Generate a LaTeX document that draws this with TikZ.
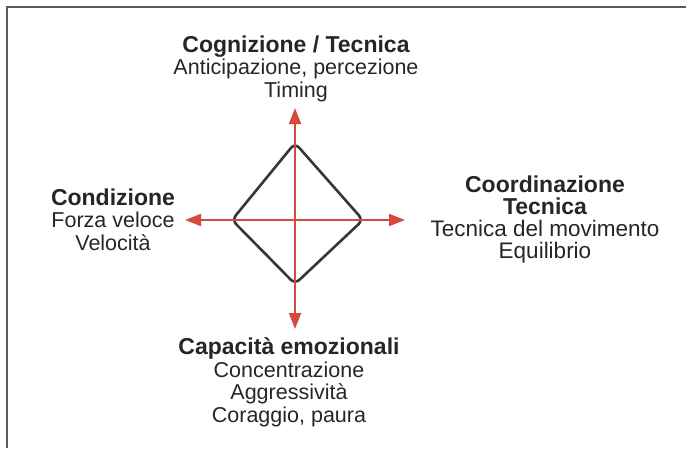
\documentclass[tikz,border=0pt]{standalone}
\usepackage{fontspec}
\setmainfont{Liberation Sans}
\usetikzlibrary{arrows.meta,calc}
\definecolor{axisred}{HTML}{D44B3C}
\definecolor{rhombgray}{HTML}{363636}
\definecolor{framegray}{HTML}{5A5A5A}
\definecolor{inkgray}{HTML}{262626}
\tikzset{
  axis/.style={draw=axisred,line width=2pt,-{Triangle[length=16pt,width=12pt]}},
  label/.style={align=center,anchor=base,text=inkgray,inner sep=0pt,
    font=\fontsize{21.5}{22.5}\selectfont},
}
\newcommand{\headline}[1]{{\bfseries\fontsize{23}{22.5}\selectfont #1}}
\begin{document}
\begin{tikzpicture}[x=1pt,y=-1pt]
			\useasboundingbox (0,0) rectangle (686,448);
			\draw[framegray,line width=1.3pt] (7,448) -- (7,7) -- (686,7);
			\coordinate (O) at (295,220);
			\coordinate (N) at (295,108);
			\coordinate (S) at (295,329);
			\coordinate (W) at (185,220);
			\coordinate (E) at (405,220);
			\coordinate (T) at (295,143);
			\coordinate (R) at (363,220);
			\coordinate (B) at (295,284);
			\coordinate (L) at (232,220);
			\draw[rhombgray,line width=2.6pt,rounded corners=6pt] ($(T)!0.5!(R)$) -- (R) -- (B) -- (L) -- (T) -- cycle;
			\draw[axis] (O) -- (N);
			\draw[axis] (O) -- (S);
			\draw[axis] (O) -- (W);
			\draw[axis] (O) -- (E);
			% the base anchor sits on the last line
			\node[label] (cogn) at (296,97) {\headline{Cognizione / Tecnica}\\Anticipazione, percezione\\Timing};
			\node[label] (cond) at (113,250) {\headline{Condizione}\\Forza veloce\\Velocità};
			\node[label,font=\fontsize{22.5}{22}\selectfont] (coord) at (545,258) {\headline{Coordinazione}\\\headline{Tecnica}\\Tecnica del movimento\\Equilibrio};
			\node[label] (emoz) at (289,422) {\headline{Capacità emozionali}\\Concentrazione\\Aggressività\\Coraggio, paura};
		\end{tikzpicture}
\end{document}
